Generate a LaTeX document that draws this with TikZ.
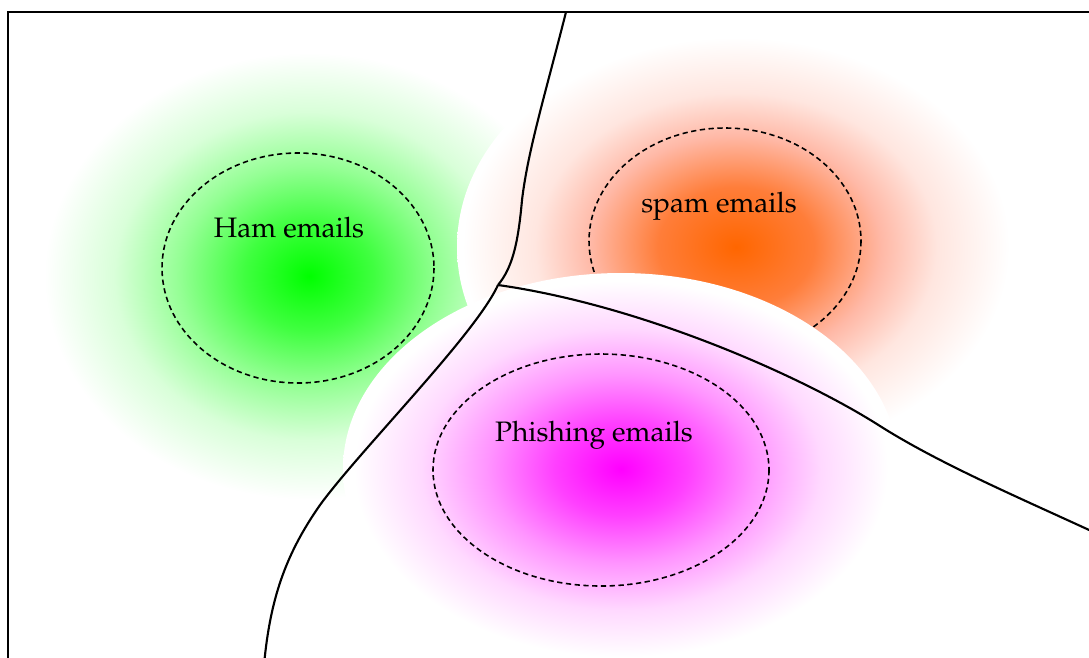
\documentclass[tikz,border=0pt]{standalone}
\usepackage[T1]{fontenc}
\renewcommand{\rmdefault}{ppl}
\usepackage{xcolor}
\definecolor{ham}{HTML}{00FF00}
\definecolor{spam}{HTML}{FF6600}
\definecolor{spamrim}{HTML}{FF9A80}
\definecolor{phish}{HTML}{FF00FF}

% glows with a soft tail that dies out just inside the rim of the path
\pgfdeclareradialshading{hamglow}{\pgfpointorigin}{color(0bp)=(ham); color(6bp)=(ham!75!white); color(12bp)=(ham!42!white); color(18bp)=(ham!15!white); color(24.5bp)=(white); color(50bp)=(white)}
\pgfdeclareradialshading{spamglow}{\pgfpointorigin}{color(0bp)=(spam); color(7bp)=(spam!55!spamrim); color(13bp)=(spamrim!70!white); color(18bp)=(spamrim!25!white); color(24.5bp)=(white); color(50bp)=(white)}
\pgfdeclareradialshading{phishglow}{\pgfpointorigin}{color(0bp)=(phish); color(6bp)=(phish!75!white); color(12bp)=(phish!42!white); color(18bp)=(phish!15!white); color(24bp)=(white); color(50bp)=(white)}

\tikzset{
  blob/.style={shading=#1},
  border/.style={dash pattern=on 1.5pt off 1pt, line width=0.45pt},
  edge/.style={line width=0.6pt},
  tag/.style={font=\fontsize{8}{10}\selectfont, inner sep=0pt, anchor=base}
}

\begin{document}
\begin{tikzpicture}[x=0.01cm,y=-0.01cm]
  \useasboundingbox (0,0) rectangle (1089,657);
  \clip (0,0) rectangle (1089,657);

  % Ham cluster
  \shade[blob=hamglow] (309,276) ellipse [x radius=270, y radius=228];
  \draw[border] (298,268) ellipse [x radius=136, y radius=115];
  \node[tag] (ham) at (289,237) {Ham emails};

  % Spam cluster
  \shade[blob=spamglow] (736,247) ellipse [x radius=279, y radius=214];
  \draw[border] (725,241) ellipse [x radius=136, y radius=113];
  \node[tag] (spam) at (719,212) {spam emails};

  % Phishing cluster
  \shade[blob=phishglow] (621,469) ellipse [x radius=278, y radius=196];
  \draw[border] (601,470) ellipse [x radius=168, y radius=116];
  \node[tag] (phish) at (594,441) {Phishing emails};

  % Decision boundaries
  \coordinate (meet) at (498,285);
  \draw[edge] (566,12) .. controls (545,95) and (528,150) .. (522,200)
    .. controls (518,245) and (512,268) .. (meet);
  \draw[edge] (meet) .. controls (475,335) and (360,450) .. (320,505)
    .. controls (285,555) and (270,600) .. (264,665);
  \draw[edge] (meet) .. controls (640,305) and (800,375) .. (880,426)
    .. controls (940,464) and (1020,498) .. (1100,535);

  % Frame
  \draw[edge] (8,12) rectangle (1100,670);
\end{tikzpicture}
\end{document}
